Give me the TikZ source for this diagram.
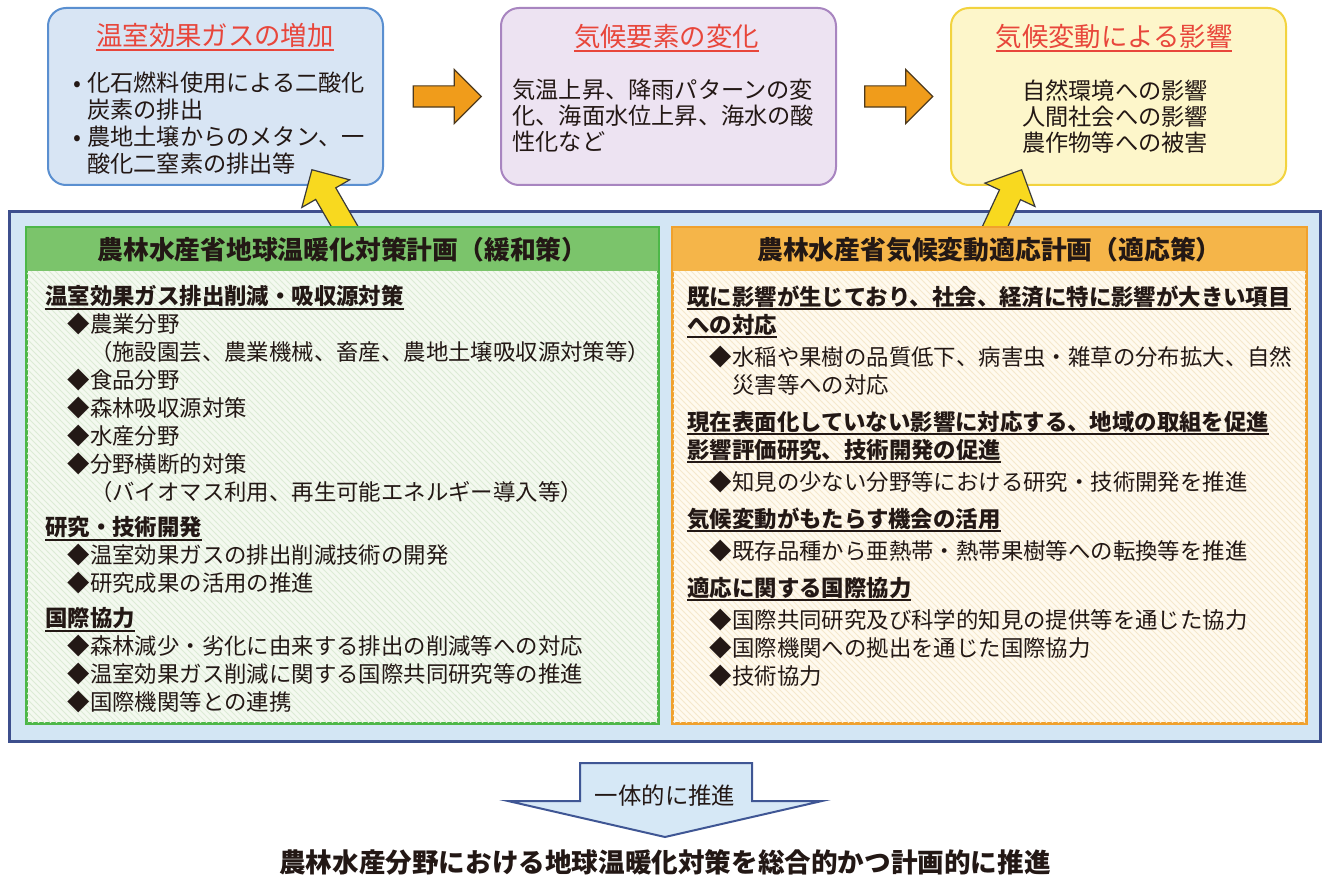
\documentclass[tikz,border=0pt]{standalone}
\usepackage{fontspec}
\setmainfont{Noto Sans CJK JP}
\usetikzlibrary{shapes.arrows,positioning,calc,patterns}

\definecolor{ink}{HTML}{231815}
\definecolor{titlered}{HTML}{E8463B}
\definecolor{incrline}{HTML}{5A8FD0}
\definecolor{incrfill}{HTML}{D8E5F4}
\definecolor{chgline}{HTML}{A885C0}
\definecolor{chgfill}{HTML}{EDE3F2}
\definecolor{impline}{HTML}{F2D33F}
\definecolor{impfill}{HTML}{FDF6CA}
\definecolor{flowfill}{HTML}{F09C1B}
\definecolor{flowline}{HTML}{4D3A1E}
\definecolor{liftfill}{HTML}{F8D91F}
\definecolor{liftline}{HTML}{3A3A3A}
\definecolor{frameline}{HTML}{3D4F8D}
\definecolor{framefill}{HTML}{D3E6F4}
\definecolor{mitline}{HTML}{4DB748}
\definecolor{mithead}{HTML}{7BC46B}
\definecolor{mitfill}{HTML}{F4F9F0}
\definecolor{mithatch}{HTML}{DCEBD5}
\definecolor{adpline}{HTML}{F0A12D}
\definecolor{adphead}{HTML}{F5B549}
\definecolor{adpfill}{HTML}{FFFAEF}
\definecolor{adphatch}{HTML}{F5E8CC}
\definecolor{pushline}{HTML}{3F5694}
\definecolor{pushfill}{HTML}{D6E8F6}

\newcommand{\ulhead}[1]{\setbox0\hbox{#1}\rlap{\rule[-2.5pt]{\wd0}{1pt}}\box0}

\begin{document}
\begin{tikzpicture}[x=0.5pt, y=-0.5pt,
  topbox/.style={draw, line width=1pt, rounded corners=9pt, minimum width=167.5pt, minimum height=88.5pt, inner sep=0pt},
  toptitle/.style={anchor=base, inner sep=0pt, text=titlered, font=\fontsize{13.2}{16}\selectfont},
  topbody/.style={anchor=north west, inner sep=0pt, align=left, text=ink, font=\fontsize{11.6}{13.5}\selectfont},
  flowarrow/.style={single arrow, draw=flowline, fill=flowfill, line width=0.6pt, inner xsep=0pt, inner ysep=5pt, minimum width=26.5pt, minimum height=34pt, single arrow head extend=8.25pt},
  liftarrow/.style={single arrow, draw=liftline, fill=liftfill, line width=0.6pt, inner xsep=0pt, inner ysep=5.5pt, minimum width=27pt, minimum height=36pt, single arrow head extend=8pt, anchor=tip},
  panel/.style={line width=1pt, minimum height=247.5pt, inner sep=0pt},
  panelhead/.style={anchor=north, inner sep=0pt, minimum height=22pt, text=ink, font=\bfseries\fontsize{12.9}{15}\selectfont},
  panelbody/.style={anchor=north west, inner sep=0pt, align=left, text=ink, font=\fontsize{11.2}{14}\selectfont}]
\useasboundingbox (0,0) rectangle (1330,888);

% top row
\node[topbox, draw=incrline, fill=incrfill] (incr) at (215.5,96.5) {};
\node[topbox, draw=chgline, fill=chgfill] (chg) [right=58pt of incr] {};
\node[topbox, draw=impline, fill=impfill] (imp) [right=56.5pt of chg] {};
\node[toptitle] (incr-t) at (215,46) {\ulhead{温室効果ガスの増加}};
\node[toptitle] (chg-t) at (666.5,47) {\ulhead{気候要素の変化}};
\node[toptitle] (imp-t) at (1114,47) {\ulhead{気候変動による影響}};
\node[topbody] (incr-b) at (73,71) {\makebox[7pt][l]{•}化石燃料使用による二酸化\\\hspace*{7pt}炭素の排出\\\makebox[7pt][l]{•}農地土壌からのメタン、一\\\hspace*{7pt}酸化二窒素の排出等};
\node[topbody, font=\fontsize{11.6}{13}\selectfont] (chg-b) at (512,79) {気温上昇、降雨パターンの変\\化、海面水位上昇、海水の酸\\性化など};
\node[topbody, anchor=north, align=center, font=\fontsize{11.6}{13}\selectfont] (imp-b) at (1115,79) {自然環境への影響\\人間社会への影響\\農作物等への被害};
\node[flowarrow] (flow1) at ($(incr.east)!0.5!(chg.west)$) {};
\node[flowarrow] (flow2) at ($(chg.east)!0.5!(imp.west)$) {};

% frame with the two plans
\node[draw=frameline, fill=framefill, line width=1.5pt, minimum width=655.5pt, minimum height=264.5pt, inner sep=0pt] (frame) at (665,476.5) {};
\node[liftarrow, rotate=120] (lift1) at ([shift={(96,-17)}]incr.south) {};
\node[liftarrow, rotate=65] (lift2) at ([shift={(-96.5,-17)}]imp.south) {};

\node[panel, draw=mitline, fill=mitfill, minimum width=315.5pt, postaction={pattern=north west lines, pattern color=mithatch}] (mit) at (342.5,475.5) {};
\node[panelhead, fill=mithead, minimum width=315.5pt] (mit-h) at (mit.north) {農林水産省地球温暖化対策計画（緩和策）};
\draw[mitline, line width=1pt] (mit.north west) rectangle (mit.south east);
\node[panel, draw=adpline, fill=adpfill, minimum width=316.5pt, postaction={pattern=north west lines, pattern color=adphatch}] (adp) at (989.5,475.5) {};
\node[panelhead, fill=adphead, minimum width=316.5pt] (adp-h) at (adp.north) {農林水産省気候変動適応計画（適応策）};
\draw[adpline, line width=1pt] (adp.north west) rectangle (adp.south east);

\node[panelbody] (mit-b) at (45,285) {\ulhead{\bfseries 温室効果ガス排出削減・吸収源対策}\\
\hspace*{1em}◆農業分野\\
\hspace*{2em}（施設園芸、農業機械、畜産、農地土壌吸収源対策等）\\
\hspace*{1em}◆食品分野\\
\hspace*{1em}◆森林吸収源対策\\
\hspace*{1em}◆水産分野\\
\hspace*{1em}◆分野横断的対策\\
\hspace*{2em}（バイオマス利用、再生可能エネルギー導入等）\\[3.5pt]
\ulhead{\bfseries 研究・技術開発}\\
\hspace*{1em}◆温室効果ガスの排出削減技術の開発\\
\hspace*{1em}◆研究成果の活用の推進\\[3.5pt]
\ulhead{\bfseries 国際協力}\\
\hspace*{1em}◆森林減少・劣化に由来する排出の削減等への対応\\
\hspace*{1em}◆温室効果ガス削減に関する国際共同研究等の推進\\
\hspace*{1em}◆国際機関等との連携};

\node[panelbody] (adp-b) at (687,285) {\ulhead{\bfseries 既に影響が生じており、社会、経済に特に影響が大きい項目}\\
\ulhead{\bfseries への対応}\\[2pt]
\hspace*{1em}◆水稲や果樹の品質低下、病害虫・雑草の分布拡大、自然\\
\hspace*{2em}災害等への対応\\[4.5pt]
\ulhead{\bfseries 現在表面化していない影響に対応する、地域の取組を促進}\\
\ulhead{\bfseries 影響評価研究、技術開発の促進}\\[2pt]
\hspace*{1em}◆知見の少ない分野等における研究・技術開発を推進\\[4.5pt]
\ulhead{\bfseries 気候変動がもたらす機会の活用}\\[2pt]
\hspace*{1em}◆既存品種から亜熱帯・熱帯果樹等への転換等を推進\\[4.5pt]
\ulhead{\bfseries 適応に関する国際協力}\\[2pt]
\hspace*{1em}◆国際共同研究及び科学的知見の提供等を通じた協力\\
\hspace*{1em}◆国際機関への拠出を通じた国際協力\\
\hspace*{1em}◆技術協力};

% bottom
\draw[pushline, fill=pushfill, line width=1pt] (580,763) -- (752,763) -- (752,801) -- (822,801) -- (665,837) -- (508,801) -- (580,801) -- cycle;
\node[anchor=base, inner sep=0pt, text=ink, font=\fontsize{11.7}{14}\selectfont] (push-t) at (665,804) {一体的に推進};
\node[anchor=base, inner sep=0pt, text=ink, font=\bfseries\fontsize{13.3}{16}\selectfont] (goal) at (665,872) {農林水産分野における地球温暖化対策を総合的かつ計画的に推進};
\end{tikzpicture}
\end{document}
